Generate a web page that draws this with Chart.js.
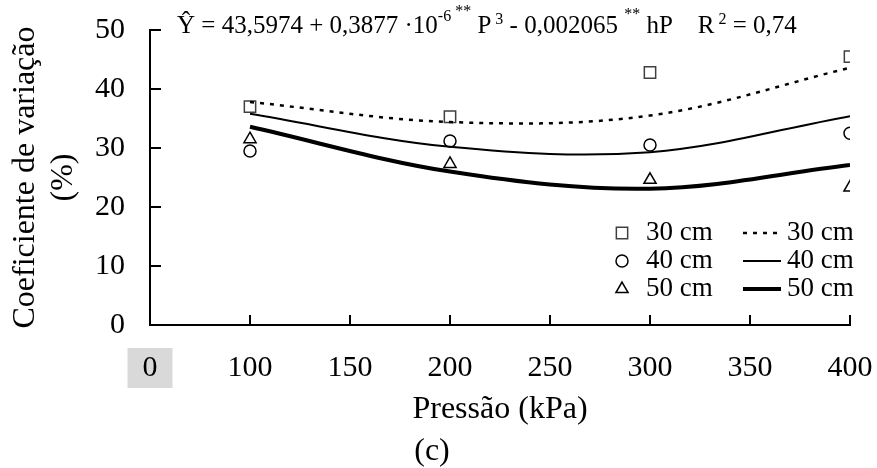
<!DOCTYPE html>
<html>
<head>
<meta charset="utf-8">
<script src="https://cdn.jsdelivr.net/npm/chart.js@4/dist/chart.umd.min.js"></script>
<style>
html, body { margin: 0; padding: 0; background: #fff; }
</style>
</head>
<body>
<canvas id="chart" width="877" height="468"></canvas>
<script>
// Pressures where the CV was measured (kPa)
const pressures = [100, 200, 300, 400];
const depths = ['30 cm', '40 cm', '50 cm'];

// Observed CV (%) per nozzle height
const observed30 = [37.0, 35.3, 42.8, 45.5];
const observed40 = [29.5, 31.2, 30.5, 32.5];
const observed50 = [31.5, 27.3, 24.6, 23.3];

// Fitted curve values at the same pressures
const fitted30 = [37.8, 34.4, 35.5, 43.6];
const fitted40 = [35.8, 30.2, 29.3, 35.4];
const fitted50 = [33.6, 26.0, 23.1, 27.1];

// x axis: first tick is labelled "0" (broken axis)
const xTickValues = [50, 100, 150, 200, 250, 300, 350, 400];
const xTickLabels = ['0', '100', '150', '200', '250', '300', '350', '400'];
const yTickValues = [0, 10, 20, 30, 40, 50];

const serif = "'Liberation Serif', 'Times New Roman', serif";

function toPoints(values) {
    return pressures.map((p, i) => ({ x: p, y: values[i] }));
}

const fitStyles = [
    { borderWidth: 2.5, borderDash: [4, 6] },
    { borderWidth: 2, borderDash: [] },
    { borderWidth: 4, borderDash: [] }
];
const markerStyles = [
    { pointStyle: 'rect', pointRadius: 8, pointBorderColor: '#404040' },
    { pointStyle: 'circle', pointRadius: 6, pointBorderColor: '#000' },
    { pointStyle: 'triangle', pointRadius: 7, pointBorderColor: '#000' }
];

const fitted = [fitted30, fitted40, fitted50];
const observed = [observed30, observed40, observed50];

const datasets = [];
fitted.forEach((values, i) => {
    datasets.push({
        label: depths[i] + ' ajuste',
        data: toPoints(values),
        borderColor: '#000',
        borderWidth: fitStyles[i].borderWidth,
        borderDash: fitStyles[i].borderDash,
        borderCapStyle: 'butt',
        tension: 0.35,
        pointRadius: 0,
        fill: false
    });
});
observed.forEach((values, i) => {
    datasets.push({
        label: depths[i],
        data: toPoints(values),
        showLine: false,
        pointStyle: markerStyles[i].pointStyle,
        pointRadius: markerStyles[i].pointRadius,
        pointBorderColor: markerStyles[i].pointBorderColor,
        pointBackgroundColor: '#fff',
        pointBorderWidth: 1.5
    });
});

const extrasPlugin = {
    id: 'extras',
    afterDraw(chart) {
        const ctx = chart.ctx;
        const xs = chart.scales.x, ys = chart.scales.y;
        ctx.save();

        // tick marks pointing into the plot
        ctx.strokeStyle = '#000';
        ctx.lineWidth = 2;
        ctx.beginPath();
        yTickValues.forEach(v => {
            const py = ys.getPixelForValue(v);
            ctx.moveTo(xs.left, py);
            ctx.lineTo(xs.left + 11, py);
        });
        xTickValues.forEach(v => {
            const px = xs.getPixelForValue(v);
            ctx.moveTo(px, ys.bottom);
            ctx.lineTo(px, ys.bottom - 10);
        });
        ctx.stroke();

        // legend, two columns
        const rowY = [233, 261, 289];
        ctx.font = `27px ${serif}`;
        ctx.textBaseline = 'middle';
        ctx.textAlign = 'left';
        depths.forEach((name, i) => {
            const marker = chart.data.datasets[3 + i];
            const line = chart.data.datasets[i];
            ctx.setLineDash([]);
            ctx.fillStyle = '#fff';
            ctx.strokeStyle = marker.pointBorderColor;
            ctx.lineWidth = 1.5;
            Chart.helpers.drawPoint(ctx, {
                pointStyle: marker.pointStyle,
                radius: marker.pointRadius,
                borderWidth: 1.5,
                rotation: 0
            }, 622, rowY[i]);
            ctx.fillStyle = '#000';
            ctx.fillText(name, 646, rowY[i]);

            ctx.strokeStyle = '#000';
            ctx.lineWidth = line.borderWidth;
            ctx.setLineDash(line.borderDash);
            ctx.beginPath();
            ctx.moveTo(743, rowY[i]);
            ctx.lineTo(781, rowY[i]);
            ctx.stroke();
            ctx.setLineDash([]);
            ctx.fillText(name, 787, rowY[i]);
        });

        // regression equation
        const parts = [
            { t: 'Ŷ = 43,5974 + 0,3877 ·10' },
            { t: '-6', rise: 12, size: 16 },
            { t: ' **', rise: 17, size: 16 },
            { t: ' P' },
            { t: ' 3', rise: 9, size: 16 },
            { t: ' - 0,002065 ' },
            { t: '**', rise: 14, size: 16 },
            { t: ' hP' },
            { t: '    R' },
            { t: ' 2', rise: 9, size: 16 },
            { t: ' = 0,74' }
        ];
        let ex = 177;
        ctx.textBaseline = 'alphabetic';
        ctx.fillStyle = '#000';
        parts.forEach(p => {
            ctx.font = `${p.size || 25}px ${serif}`;
            ctx.fillText(p.t, ex, 33 - (p.rise || 0));
            ex += ctx.measureText(p.t).width;
        });

        // panel letter
        ctx.font = `32px ${serif}`;
        ctx.textAlign = 'center';
        ctx.textBaseline = 'middle';
        ctx.fillText('(c)', 432, 452);
        ctx.restore();
    }
};

new Chart(document.getElementById('chart'), {
    type: 'line',
    data: { datasets: datasets },
    options: {
        responsive: false,
        animation: false,
        layout: { padding: { top: 30, right: 27, bottom: 38, left: 0 } },
        scales: {
            x: {
                type: 'linear',
                min: 50,
                max: 400,
                afterBuildTicks: (scale) => { scale.ticks = xTickValues.map(v => ({ value: v })); },
                afterFit: (scale) => {
                    scale.height = 105;
                    scale.paddingLeft = 0;
                    scale.paddingRight = 0;
                },
                border: { display: true, color: '#000', width: 2 },
                grid: { drawOnChartArea: false, drawTicks: false },
                ticks: {
                    autoSkip: false,
                    maxRotation: 0,
                    padding: 25,
                    color: '#000',
                    font: { family: serif, size: 30 },
                    callback: (value, index) => xTickLabels[index],
                    showLabelBackdrop: (c) => c.index === 0,
                    backdropColor: '#d9d9d9',
                    backdropPadding: { left: 15, right: 15, top: 2, bottom: 2 }
                },
                title: {
                    display: true,
                    text: 'Pressão (kPa)',
                    color: '#000',
                    font: { family: serif, size: 32, lineHeight: 1.16 },
                    padding: { top: 0, bottom: 1.5 }
                }
            },
            y: {
                min: 0,
                max: 50,
                afterFit: (scale) => {
                    scale.width = 150;
                    scale.paddingTop = 0;
                    scale.paddingBottom = 0;
                },
                border: { display: true, color: '#000', width: 2 },
                grid: { drawOnChartArea: false, drawTicks: false },
                ticks: {
                    stepSize: 10,
                    padding: 25,
                    color: '#000',
                    font: { family: serif, size: 30 }
                },
                title: {
                    display: true,
                    text: ['Coeficiente de variação', '(%)'],
                    color: '#000',
                    font: { family: serif, size: 32, lineHeight: 1.16 },
                    padding: { top: 7.5, bottom: 0 }
                }
            }
        },
        plugins: {
            legend: { display: false },
            tooltip: { enabled: false }
        }
    },
    plugins: [extrasPlugin]
});
</script>
</body>
</html>
